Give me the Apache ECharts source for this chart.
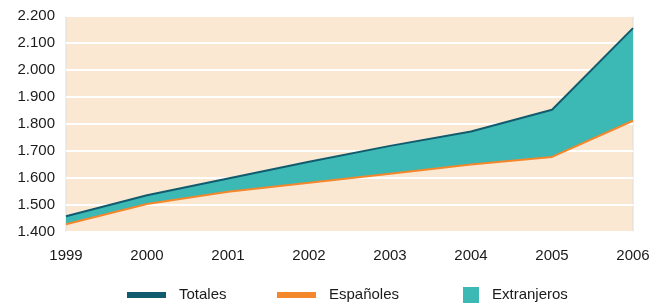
<!DOCTYPE html>
<html>
<head>
<meta charset="utf-8">
<script src="https://cdn.jsdelivr.net/npm/echarts@6/dist/echarts.min.js"></script>
<style>
html, body { margin: 0; padding: 0; background: #fff; }
#container { width: 664px; height: 304px; }
</style>
</head>
<body>
<div id="container"></div>
<script>
// datos
var years = ['1999', '2000', '2001', '2002', '2003', '2004', '2005', '2006'];
var totales = [1458, 1536, 1598, 1660, 1719, 1772, 1853, 2155];
var espanoles = [1429, 1504, 1549, 1582, 1616, 1650, 1678, 1812];

var extranjeros = [];
for (var i = 0; i < totales.length; i += 1) {
	extranjeros.push(totales[i] - espanoles[i]);
}

var colTot = '#115b6e';
var colEsp = '#f4862b';
var colExt = '#3cb9b5';

function miles(v) {
	var s = String(v);
	return s.length > 3 ? s.slice(0, s.length - 3) + '.' + s.slice(s.length - 3) : s;
}

var dom = document.getElementById("container");
var myChart = echarts.init(dom);

var legendText = {
	fontFamily: 'Liberation Sans, Arial, sans-serif',
	fontSize: 15,
	color: '#1a1a1a',
	height: 16,
	lineHeight: 16,
	padding: [0, 0, 0, 8]
};

myChart.setOption({
	animation: false,
	textStyle: { fontFamily: 'Liberation Sans, Arial, sans-serif' },
	grid: {
		left: 66, right: 31, top: 16, bottom: 72,
		show: true,
		backgroundColor: '#fae8d2',
		borderColor: '#dddddd',
		borderWidth: 1
	},
	legend: [{
		left: 122, top: 282,
		itemWidth: 39, itemHeight: 6,
		icon: 'rect',
		data: ['Totales'],
		textStyle: legendText
	}, {
		left: 272, top: 282,
		itemWidth: 39, itemHeight: 6,
		icon: 'rect',
		data: ['Españoles'],
		textStyle: legendText
	}, {
		left: 458, top: 282,
		itemWidth: 16, itemHeight: 16,
		icon: 'rect',
		data: ['Extranjeros'],
		textStyle: legendText
	}],
	xAxis: {
		type: 'category',
		data: years,
		boundaryGap: false,
		axisLine: { show: false },
		axisTick: { show: false },
		splitLine: { show: false },
		axisLabel: { color: '#1a1a1a', fontSize: 15, margin: 16 }
	},
	yAxis: {
		type: 'value',
		min: 1400,
		max: 2200,
		interval: 100,
		axisLine: { show: false },
		axisTick: { show: false },
		splitLine: { lineStyle: { color: '#ffffff', width: 2 } },
		axisLabel: {
			color: '#1a1a1a', fontSize: 15, margin: 11,
			formatter: function (v) { return miles(v); }
		}
	},
	series: [{
		name: 'Españoles',
		type: 'line',
		stack: 'a',
		data: espanoles,
		showSymbol: false,
		itemStyle: { color: colEsp },
		lineStyle: { color: colEsp, width: 2 },
		z: 4
	}, {
		name: 'Extranjeros',
		type: 'line',
		stack: 'a',
		data: extranjeros,
		showSymbol: false,
		itemStyle: { color: colExt },
		lineStyle: { width: 0 },
		areaStyle: { color: colExt, opacity: 1 },
		z: 2
	}, {
		name: 'Totales',
		type: 'line',
		data: totales,
		showSymbol: false,
		itemStyle: { color: colTot },
		lineStyle: { color: colTot, width: 2 },
		z: 5
	}]
});
</script>
</body>
</html>
